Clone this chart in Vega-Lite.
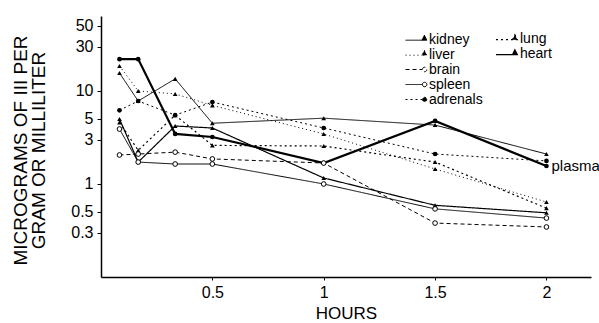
{
  "$schema": "https://vega.github.io/schema/vega-lite/v6.json",
  "width": 490,
  "height": 261,
  "autosize": "none",
  "padding": {"left": 101, "top": 16, "right": 8, "bottom": 46},
  "background": "white",
  "config": {
    "view": {"stroke": null},
    "font": "Liberation Sans",
    "axis": {"domainColor": "black", "domainWidth": 1.5, "tickColor": "black", "labelColor": "black", "titleColor": "black", "grid": false, "labelFont": "Liberation Sans", "titleFont": "Liberation Sans", "titleFontWeight": "normal"}
  },
  "data": {"values": [
    {"organ": "plasma", "t": 0.083, "v": 22}, {"organ": "plasma", "t": 0.167, "v": 22}, {"organ": "plasma", "t": 0.333, "v": 3.45}, {"organ": "plasma", "t": 0.5, "v": 3.2}, {"organ": "plasma", "t": 1, "v": 1.68}, {"organ": "plasma", "t": 1.5, "v": 4.76}, {"organ": "plasma", "t": 2, "v": 1.56},
    {"organ": "kidney", "t": 0.083, "v": 15.6}, {"organ": "kidney", "t": 0.167, "v": 7.8}, {"organ": "kidney", "t": 0.333, "v": 13.5}, {"organ": "kidney", "t": 0.5, "v": 4.5}, {"organ": "kidney", "t": 1, "v": 5.1}, {"organ": "kidney", "t": 1.5, "v": 4.3}, {"organ": "kidney", "t": 2, "v": 2.1},
    {"organ": "liver", "t": 0.083, "v": 18.6}, {"organ": "liver", "t": 0.167, "v": 10}, {"organ": "liver", "t": 0.333, "v": 9.3}, {"organ": "liver", "t": 0.5, "v": 7.0}, {"organ": "liver", "t": 1, "v": 3.45}, {"organ": "liver", "t": 1.5, "v": 1.45}, {"organ": "liver", "t": 2, "v": 0.64},
    {"organ": "brain", "t": 0.083, "v": 2.05}, {"organ": "brain", "t": 0.167, "v": 2.1}, {"organ": "brain", "t": 0.333, "v": 2.2}, {"organ": "brain", "t": 0.5, "v": 1.86}, {"organ": "brain", "t": 1, "v": 1.68}, {"organ": "brain", "t": 1.5, "v": 0.38}, {"organ": "brain", "t": 2, "v": 0.345},
    {"organ": "spleen", "t": 0.083, "v": 3.9}, {"organ": "spleen", "t": 0.167, "v": 1.72}, {"organ": "spleen", "t": 0.333, "v": 1.64}, {"organ": "spleen", "t": 0.5, "v": 1.64}, {"organ": "spleen", "t": 1, "v": 1.0}, {"organ": "spleen", "t": 1.5, "v": 0.54}, {"organ": "spleen", "t": 2, "v": 0.43},
    {"organ": "adrenals", "t": 0.083, "v": 6.2}, {"organ": "adrenals", "t": 0.167, "v": 7.8}, {"organ": "adrenals", "t": 0.333, "v": 5.5}, {"organ": "adrenals", "t": 0.5, "v": 7.6}, {"organ": "adrenals", "t": 1, "v": 4.0}, {"organ": "adrenals", "t": 1.5, "v": 2.1}, {"organ": "adrenals", "t": 2, "v": 1.77},
    {"organ": "lung", "t": 0.083, "v": 4.6}, {"organ": "lung", "t": 0.167, "v": 2.3}, {"organ": "lung", "t": 0.333, "v": 5.5}, {"organ": "lung", "t": 0.5, "v": 2.6}, {"organ": "lung", "t": 1, "v": 2.56}, {"organ": "lung", "t": 1.5, "v": 1.72}, {"organ": "lung", "t": 2, "v": 0.55},
    {"organ": "heart", "t": 0.083, "v": 5.0}, {"organ": "heart", "t": 0.167, "v": 1.72}, {"organ": "heart", "t": 0.333, "v": 4.2}, {"organ": "heart", "t": 0.5, "v": 4.0}, {"organ": "heart", "t": 1, "v": 1.16}, {"organ": "heart", "t": 1.5, "v": 0.59}, {"organ": "heart", "t": 2, "v": 0.49}
  ]},
  "encoding": {
    "x": {"field": "t", "type": "quantitative", "scale": {"domain": [0, 2.2], "nice": false, "zero": false},
      "axis": {"values": [0.5, 1, 1.5, 2], "format": "~g", "title": "HOURS", "titleFontSize": 17, "labelFontSize": 16, "tickSize": 3, "labelPadding": 4, "titlePadding": 5}},
    "y": {"field": "v", "type": "quantitative", "scale": {"type": "log", "domain": [0.1, 64], "nice": false},
      "axis": {"values": [0.3, 0.5, 1, 3, 5, 10, 30, 50], "format": "~g", "labelFontSize": 16, "tickSize": 4, "labelPadding": 4,
        "title": ["MICROGRAMS OF III PER", "GRAM OR MILLILITER"], "titleFontSize": 19, "titleLineHeight": 18, "titleAngle": -90, "titleX": -81, "titleY": 134, "titleAlign": "center", "titleBaseline": "middle"}}
  },
  "layer": [
    {
      "transform": [{"filter": {"field": "organ", "oneOf": ["kidney", "liver", "brain", "spleen", "adrenals"]}}],
      "mark": {"type": "line", "color": "black", "strokeWidth": 1},
      "encoding": {"strokeDash": {"field": "organ", "type": "nominal",
        "scale": {"domain": ["kidney", "liver", "brain", "spleen", "adrenals"], "range": [[1, 0], [1, 3], [4, 3], [1, 0], [2, 3]]},
        "legend": {"orient": "none", "legendX": 311, "legendY": 16, "title": null, "symbolType": "stroke", "symbolSize": 196, "symbolStrokeWidth": 1, "symbolStrokeColor": "black", "labelFontSize": 14, "labelOffset": 2, "rowPadding": -1, "padding": 0, "labelColor": "black", "labelFont": "Liberation Sans",
          "encode": {"symbols": {"update": {
            "shape": {"signal": "indexof(['kidney','liver','lung','heart'], datum.value) >= 0 ? 'M -2 0.1 L 0.4 0.1 M 0.7 -0.6 L 1.05 0.1 L 0.35 0.1 Z' : 'M -2 0 L 0.4 0 M 1.05 0 A 0.32 0.32 0 1 1 0.41 0 A 0.32 0.32 0 1 1 1.05 0 Z'"},
            "fill": {"signal": "indexof(['brain','spleen'], datum.value) >= 0 ? 'white' : 'black'"},
            "stroke": {"value": "black"}}}}}}}
    },
    {
      "transform": [{"filter": {"field": "organ", "oneOf": ["lung", "heart"]}}],
      "mark": {"type": "line", "color": "black", "strokeWidth": 1.2},
      "encoding": {"strokeDash": {"field": "organ", "type": "nominal",
        "scale": {"domain": ["lung", "heart"], "range": [[2, 3], [1, 0]]},
        "legend": {"orient": "none", "legendX": 401, "legendY": 15, "title": null, "symbolType": "stroke", "symbolSize": 196, "symbolStrokeWidth": 1.2, "symbolStrokeColor": "black", "labelFontSize": 14, "labelOffset": 2, "rowPadding": -1, "padding": 0, "labelColor": "black", "labelFont": "Liberation Sans",
          "encode": {"symbols": {"update": {
            "shape": {"signal": "indexof(['kidney','liver','lung','heart'], datum.value) >= 0 ? 'M -2 0.1 L 0.4 0.1 M 0.7 -0.6 L 1.05 0.1 L 0.35 0.1 Z' : 'M -2 0 L 0.4 0 M 1.05 0 A 0.32 0.32 0 1 1 0.41 0 A 0.32 0.32 0 1 1 1.05 0 Z'"},
            "fill": {"value": "black"},
            "stroke": {"value": "black"}}}}}}}
    },
    {
      "transform": [{"filter": {"field": "organ", "equal": "plasma"}}],
      "mark": {"type": "line", "color": "black", "strokeWidth": 2.2}
    },
    {
      "transform": [{"filter": {"not": {"field": "organ", "oneOf": ["brain", "spleen"]}}}],
      "mark": {"type": "point", "filled": true, "color": "black", "size": 22, "opacity": 1},
      "encoding": {"shape": {"field": "organ", "type": "nominal",
        "scale": {"domain": ["kidney", "liver", "lung", "heart", "adrenals", "plasma"], "range": ["triangle-up", "triangle-up", "triangle-up", "triangle-up", "circle", "circle"]}, "legend": null}}
    },
    {
      "transform": [{"filter": {"field": "organ", "oneOf": ["brain", "spleen"]}}],
      "mark": {"type": "point", "shape": "circle", "filled": true, "fill": "white", "stroke": "black", "strokeWidth": 1, "size": 22, "opacity": 1}
    },
    {
      "transform": [{"filter": "datum.organ === 'plasma' && datum.t === 2"}],
      "mark": {"type": "text", "align": "left", "baseline": "middle", "dx": 5, "fontSize": 15, "color": "black", "font": "Liberation Sans"},
      "encoding": {"text": {"field": "organ"}}
    }
  ],
  "resolve": {"scale": {"strokeDash": "independent"}, "legend": {"strokeDash": "independent"}}
}
